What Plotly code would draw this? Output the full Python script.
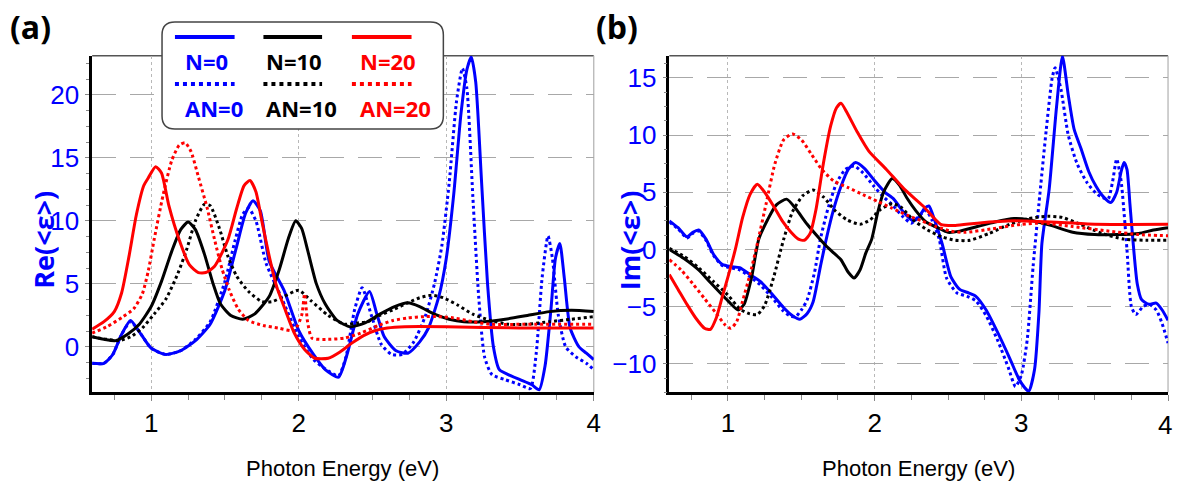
import plotly.graph_objects as go

# ---------------- Panel (a): Re(<eps>) ----------------
a_N0_x = [0.60, 0.68, 0.74, 0.80, 0.86, 0.92, 1.00, 1.10, 1.20, 1.30, 1.40, 1.50, 1.58, 1.64, 1.69, 1.74, 1.80,
          1.90, 2.00, 2.10, 2.18, 2.27, 2.33, 2.40, 2.48, 2.53, 2.58, 2.66, 2.74, 2.82, 2.88, 2.95, 3.00, 3.05,
          3.10, 3.14, 3.17, 3.20, 3.24, 3.28, 3.32, 3.36, 3.42, 3.50, 3.58, 3.63, 3.67, 3.71, 3.74, 3.77, 3.80,
          3.84, 3.90, 3.95, 4.00]
a_N0_y = [-1.3, -1.3, -0.6, 1.0, 2.1, 1.2, -0.1, -0.6, -0.3, 0.5, 1.8, 4.5, 8.0, 10.6, 11.6, 10.8, 6.8,
          4.5, 1.3, -0.6, -1.8, -2.4, -0.5, 2.6, 4.4, 2.6, 0.8, -0.3, -0.5, 0.4, 1.5, 4.0, 7.0, 12.0,
          18.5, 22.0, 23.0, 21.0, 13.0, 5.0, 0.0, -1.8, -2.2, -2.6, -3.0, -3.4, -1.5, 3.0, 7.0, 8.2, 5.5,
          1.5, 0.0, -0.5, -1.0]

a_AN0_x = [0.60, 0.68, 0.74, 0.80, 0.86, 0.92, 1.00, 1.10, 1.20, 1.30, 1.40, 1.50, 1.57, 1.62, 1.66, 1.71, 1.78,
           1.88, 2.00, 2.10, 2.20, 2.27, 2.32, 2.38, 2.43, 2.49, 2.56, 2.63, 2.70, 2.78, 2.86, 2.92, 2.97, 3.02,
           3.07, 3.11, 3.14, 3.18, 3.22, 3.26, 3.31, 3.40, 3.50, 3.57, 3.61, 3.65, 3.69, 3.72, 3.76, 3.81, 3.88,
           3.95, 4.00]
a_AN0_y = [-1.3, -1.3, -0.6, 1.0, 2.0, 1.2, -0.1, -0.6, -0.3, 0.6, 2.0, 5.2, 8.5, 10.5, 11.0, 10.0, 6.6,
           4.0, 0.8, -1.0, -1.9, -2.3, -0.8, 3.0, 4.7, 2.6, 0.2, -0.6, -0.6, 0.4, 2.5, 5.0, 8.0, 13.0,
           19.5, 22.1, 20.5, 12.0, 4.0, -0.8, -2.2, -2.6, -3.0, -3.3, -0.5, 5.5, 8.8, 7.0, 2.5, 0.0, -0.8,
           -1.3, -1.8]

a_N10_x = [0.60, 0.68, 0.76, 0.84, 0.92, 1.00, 1.07, 1.14, 1.20, 1.25, 1.30, 1.36, 1.42, 1.47, 1.54, 1.62, 1.70,
           1.80, 1.87, 1.93, 1.98, 2.02, 2.06, 2.12, 2.18, 2.26, 2.35, 2.45, 2.55, 2.65, 2.74, 2.82, 2.92, 3.02,
           3.12, 3.25, 3.40, 3.55, 3.70, 3.85, 4.00]
a_N10_y = [0.8, 0.6, 0.5, 1.0, 1.8, 3.2, 5.2, 7.6, 9.3, 9.9, 9.3, 7.4, 5.0, 3.4, 2.5, 2.2, 2.6,
           4.0, 6.2, 8.6, 10.0, 9.4, 7.7, 5.0, 3.4, 2.1, 1.6, 1.9, 2.6, 3.2, 3.5, 3.2, 2.6, 2.2,
           2.0, 2.0, 2.2, 2.5, 2.8, 2.9, 2.8]

a_AN10_x = [0.60, 0.70, 0.78, 0.86, 0.94, 1.02, 1.10, 1.18, 1.24, 1.30, 1.36, 1.40, 1.46, 1.52, 1.58, 1.66, 1.75,
            1.82, 1.90, 2.00, 2.08, 2.20, 2.31, 2.40, 2.47, 2.55, 2.65, 2.74, 2.82, 2.90, 2.98, 3.08, 3.18,
            3.30, 3.42, 3.55, 3.70, 3.85, 4.00]
a_AN10_y = [0.8, 0.6, 0.5, 0.8, 1.5, 2.6, 3.8, 5.8, 7.7, 10.0, 11.3, 11.2, 9.5, 7.2, 5.6, 4.4, 3.6,
            3.6, 4.0, 4.5, 3.7, 2.5, 1.8, 1.9, 2.0, 2.5, 3.0, 3.5, 3.9, 4.1, 3.9, 3.3, 2.6,
            2.1, 1.8, 1.8, 2.0, 2.2, 2.4]

a_N20_x = [0.60, 0.68, 0.75, 0.80, 0.85, 0.90, 0.95, 0.98, 1.03, 1.07, 1.12, 1.19, 1.26, 1.32, 1.37, 1.43, 1.52,
           1.58, 1.63, 1.67, 1.71, 1.75, 1.80, 1.85, 1.91, 1.97, 2.04, 2.11, 2.20, 2.28, 2.36, 2.44, 2.52, 2.60,
           2.72, 3.00, 3.50, 4.00]
a_N20_y = [1.4, 2.0, 2.8, 4.3, 7.2, 10.5, 12.8, 13.4, 14.3, 13.8, 11.2, 8.5, 6.5, 5.9, 5.9, 6.4, 8.5,
           11.0, 12.8, 13.2, 12.3, 10.0, 7.2, 4.8, 2.9, 1.1, -0.2, -0.9, -0.9, -0.4, 0.3, 0.9, 1.3, 1.5,
           1.6, 1.6, 1.5, 1.5]

a_AN20_x = [0.60, 0.70, 0.81, 0.88, 0.94, 0.98, 1.02, 1.08, 1.14, 1.19, 1.23, 1.27, 1.32, 1.38, 1.43, 1.48, 1.53,
            1.59, 1.66, 1.76, 1.86, 1.97, 2.02, 2.04, 2.06, 2.09, 2.20, 2.31, 2.42, 2.54, 2.64, 2.74, 2.85,
            2.95, 3.05, 3.18, 3.30, 3.60, 4.00]
a_AN20_y = [1.1, 1.6, 2.4, 3.0, 4.2, 6.0, 8.5, 12.0, 14.8, 16.0, 16.2, 15.5, 13.5, 11.0, 8.5, 6.2, 4.5,
            3.0, 2.1, 1.7, 1.5, 1.3, 2.5, 4.2, 2.0, 0.7, 0.6, 0.7, 1.1, 1.7, 2.1, 2.3, 2.4,
            2.4, 2.3, 2.0, 1.8, 1.8, 1.8]

# ---------------- Panel (b): Im(<eps>) ----------------
b_N0_x = [0.60, 0.66, 0.72, 0.76, 0.80, 0.85, 0.90, 0.96, 1.02, 1.08, 1.15, 1.22, 1.30, 1.38, 1.44, 1.49, 1.54,
          1.58, 1.63, 1.67, 1.72, 1.77, 1.82, 1.87, 1.93, 2.00, 2.07, 2.13, 2.20, 2.26, 2.30, 2.34, 2.37, 2.41,
          2.46, 2.52, 2.58, 2.64, 2.69, 2.76, 2.84, 2.92, 2.99, 3.05, 3.09, 3.12, 3.14, 3.19, 3.24, 3.28, 3.32,
          3.36, 3.41, 3.46, 3.51, 3.56, 3.61, 3.65, 3.68, 3.70, 3.72, 3.74, 3.76, 3.79, 3.82, 3.87, 3.92, 3.96,
          4.00]
b_N0_y = [2.5, 1.9, 1.1, 1.5, 1.7, 0.9, -0.4, -1.3, -1.5, -1.6, -2.2, -2.8, -3.9, -5.1, -5.8, -6.1, -5.6,
          -4.6, -1.5, 0.9, 3.5, 5.5, 7.0, 7.6, 7.1, 6.0, 5.0, 4.4, 3.2, 2.5, 2.8, 3.6, 3.8, 2.5,
          0.5, -2.4, -3.5, -3.8, -4.1, -5.3, -7.3, -9.5, -11.5, -12.4, -10.5, -5.5, 0.5, 5.3, 12.5, 16.9, 13.5,
          10.5, 8.7, 6.8, 5.5, 4.6, 4.1, 5.0, 6.8, 7.6, 7.0, 4.0, 0.9, -3.0, -4.4, -4.8, -4.7, -5.3,
          -6.2]

b_AN0_x = [0.60, 0.66, 0.72, 0.76, 0.80, 0.85, 0.90, 0.96, 1.02, 1.08, 1.15, 1.22, 1.30, 1.37, 1.42, 1.46, 1.50,
           1.54, 1.59, 1.63, 1.68, 1.74, 1.80, 1.86, 1.92, 1.99, 2.06, 2.12, 2.19, 2.25, 2.30, 2.35, 2.39, 2.44,
           2.49, 2.56, 2.63, 2.69, 2.76, 2.84, 2.91, 2.96, 3.00, 3.04, 3.08, 3.12, 3.17, 3.21, 3.23, 3.27, 3.32,
           3.38, 3.45, 3.52, 3.59, 3.62, 3.65, 3.68, 3.72, 3.75, 3.78, 3.83, 3.87, 3.92, 3.96, 4.00]
b_AN0_y = [2.4, 1.8, 1.0, 1.4, 1.6, 0.8, -0.5, -1.4, -1.6, -1.8, -2.4, -3.1, -4.2, -5.3, -5.8, -5.9, -5.3,
           -4.4, -2.0, 0.9, 3.5, 5.8, 7.0, 7.3, 6.7, 5.6, 4.6, 3.9, 2.9, 2.3, 2.9, 3.4, 2.6, 0.9,
           -2.5, -3.8, -4.1, -4.5, -5.8, -8.0, -10.3, -12.0, -11.0, -7.9, -1.5, 4.0, 10.5, 15.0, 15.9, 14.0, 10.0,
           7.5, 5.8, 4.8, 4.4, 5.8, 7.9, 6.0, 0.0, -5.0, -5.7, -5.0, -4.8, -5.3, -6.5, -8.2]

b_N10_x = [0.60, 0.70, 0.80, 0.88, 1.00, 1.07, 1.11, 1.16, 1.21, 1.27, 1.33, 1.40, 1.46, 1.54, 1.62, 1.67, 1.72,
           1.77, 1.82, 1.86, 1.90, 1.94, 1.98, 2.02, 2.06, 2.12, 2.17, 2.22, 2.28, 2.35, 2.43, 2.50, 2.58, 2.70,
           2.82, 2.95, 3.05, 3.20, 3.35, 3.50, 3.65, 3.80, 3.90, 4.00]
b_N10_y = [0.0, -0.8, -1.8, -2.9, -4.5, -5.3, -4.8, -2.5, 0.9, 2.6, 3.9, 4.4, 3.6, 2.2, 1.0, 0.3, -0.3,
           -0.9, -2.0, -2.5, -1.8, -0.3, 0.9, 3.2, 5.0, 6.2, 5.6, 4.5, 3.4, 2.4, 1.9, 1.5, 1.6, 2.0,
           2.4, 2.7, 2.6, 2.1, 1.5, 1.3, 1.3, 1.4, 1.7, 1.9]

b_AN10_x = [0.60, 0.70, 0.80, 0.90, 1.00, 1.08, 1.14, 1.20, 1.25, 1.31, 1.38, 1.44, 1.51, 1.58, 1.65, 1.73, 1.81,
            1.90, 1.97, 2.04, 2.12, 2.18, 2.26, 2.36, 2.46, 2.55, 2.65, 2.78, 2.92, 3.05, 3.18, 3.28, 3.40,
            3.55, 3.70, 3.85, 4.00]
b_AN10_y = [0.1, -0.6, -1.6, -2.8, -4.0, -5.2, -5.6, -5.7, -4.9, -2.5, 0.9, 3.3, 4.7, 5.2, 4.6, 3.4, 2.6,
            2.2, 2.6, 3.5, 4.0, 3.7, 2.6, 1.7, 1.1, 0.8, 0.8, 1.4, 2.2, 2.7, 2.9, 2.8, 2.2,
            1.4, 0.9, 0.8, 0.8]

b_N20_x = [0.60, 0.66, 0.72, 0.78, 0.84, 0.88, 0.92, 0.96, 1.00, 1.05, 1.10, 1.15, 1.20, 1.25, 1.31, 1.37, 1.43,
           1.48, 1.52, 1.56, 1.60, 1.65, 1.70, 1.74, 1.77, 1.81, 1.88, 1.96, 2.08, 2.20, 2.33, 2.45, 2.55, 2.70,
           2.95, 3.20, 3.50, 4.00]
b_N20_y = [-2.2, -3.5, -4.8, -6.0, -6.9, -7.0, -6.0, -4.2, -2.4, 0.0, 2.8, 4.8, 5.7, 5.0, 3.8, 2.5, 1.5,
           0.9, 0.8, 1.4, 3.5, 7.5, 10.8, 12.4, 12.8, 12.0, 10.3, 8.6, 7.0, 5.3, 3.8, 2.2, 2.1, 2.3,
           2.5, 2.4, 2.2, 2.2]

b_AN20_x = [0.60, 0.68, 0.76, 0.84, 0.92, 0.98, 1.02, 1.06, 1.10, 1.15, 1.20, 1.26, 1.32, 1.38, 1.44, 1.50, 1.57,
            1.64, 1.72, 1.82, 1.92, 2.02, 2.12, 2.22, 2.32, 2.42, 2.52, 2.62, 2.80, 3.00, 3.15, 3.35, 3.60,
            3.80, 4.00]
b_AN20_y = [-0.9, -1.8, -3.0, -4.3, -5.6, -6.6, -6.9, -6.3, -4.5, -2.2, 0.5, 4.0, 7.5, 9.6, 10.1, 9.6, 8.3,
            7.0, 6.0, 5.4, 4.8, 4.2, 3.6, 3.0, 2.5, 2.0, 1.6, 1.5, 1.8, 2.2, 2.3, 2.0, 1.6,
            1.3, 1.2]

# ---------------- Labels ----------------
x_ticks = [1, 2, 3, 4]
a_y_ticks = [0, 5, 10, 15, 20]
b_y_ticks = [-10, -5, 0, 5, 10, 15]
legend_names = ["N=0", "N=10", "N=20", "AN=0", "AN=10", "AN=20"]
x_title = "Photon Energy (eV)"
a_y_title = "Re(<ε>)"
b_y_title = "Im(<ε>)"
panel_labels = ["(a)", "(b)"]

BLUE = "#0000ff"
BLACK = "#000000"
RED = "#ff0000"
W, H = 1181, 493

fig = go.Figure()


def add(x, y, color, dash, xa, ya, width=3):
    fig.add_trace(go.Scatter(
        x=x, y=y, mode="lines", xaxis=xa, yaxis=ya, showlegend=False, hoverinfo="skip",
        line=dict(color=color, width=width, dash=dash, shape="spline", smoothing=0.6)))


for xa, ya, d in [("x", "y", [(a_AN0_x, a_AN0_y, BLUE, "dot"), (a_N0_x, a_N0_y, BLUE, "solid"),
                                  (a_AN10_x, a_AN10_y, BLACK, "dot"), (a_N10_x, a_N10_y, BLACK, "solid"),
                                  (a_AN20_x, a_AN20_y, RED, "dot"), (a_N20_x, a_N20_y, RED, "solid")]),
                  ("x2", "y2", [(b_AN0_x, b_AN0_y, BLUE, "dot"), (b_N0_x, b_N0_y, BLUE, "solid"),
                                (b_AN10_x, b_AN10_y, BLACK, "dot"), (b_N10_x, b_N10_y, BLACK, "solid"),
                                (b_AN20_x, b_AN20_y, RED, "dot"), (b_N20_x, b_N20_y, RED, "solid")])]:
    for x, y, c, dash in d:
        add(x, y, c, dash, xa, ya)

TICKFONT = "Liberation Sans, Arial, sans-serif"
ydom = [1 - 392.3 / H, 1 - 55.7 / H]

xcommon = dict(range=[0.6, 4], tickvals=x_ticks,
               showgrid=True, gridcolor="#b8b8b8", griddash="dot", gridwidth=1,
               showline=True, linecolor="black", linewidth=2.5, mirror=False, zeroline=False,
               ticks="outside", ticklen=6, tickcolor="#888888", tickwidth=1,
               minor=dict(dtick=0.25, tick0=0, ticks="outside", ticklen=5, tickcolor="#888888", showgrid=False),
               tickfont=dict(family=TICKFONT, size=26, color="black"), ticklabelstandoff=0)
ycommon = dict(showgrid=True, gridcolor="#a8a8a8", griddash="24px,14px", gridwidth=1,
               showline=True, linecolor="black", linewidth=2.5, zeroline=False,
               ticks="outside", ticklen=4, tickcolor="#888888", tickwidth=1,
               minor=dict(dtick=1.25, tick0=0, ticks="outside", ticklen=3, tickcolor="#888888", showgrid=False),
               tickfont=dict(family=TICKFONT, size=26, color=BLUE), ticklabelstandoff=1)

# the last label of panel (b) sits at the page edge; it is written as an annotation instead
b_x_ticktext = [str(v) for v in x_ticks[:-1]] + [""]

fig.update_layout(
    width=W, height=H, margin=dict(l=0, r=0, t=0, b=0),
    paper_bgcolor="white", plot_bgcolor="white", showlegend=False,
    xaxis=dict(domain=[92.7 / W, 597.3 / W], anchor="y", ticktext=[str(v) for v in x_ticks], **xcommon),
    yaxis=dict(domain=ydom, anchor="x", range=[-3.6, 23.1], tickvals=a_y_ticks, **ycommon),
    xaxis2=dict(domain=[673.3 / W, 1175 / W], anchor="y2", ticktext=b_x_ticktext, **xcommon),
    yaxis2=dict(domain=ydom, anchor="x2", range=[-12.5, 16.95], tickvals=b_y_ticks, **ycommon),
)

shapes = []
# top (dark grey) and right (light grey) frame lines
for xr, yr in [("x domain", "y domain"), ("x2 domain", "y2 domain")]:
    shapes.append(dict(type="line", xref=xr, yref=yr, x0=0, x1=1, y0=1, y1=1, line=dict(color="#555555", width=1.5), layer="below"))
    shapes.append(dict(type="line", xref=xr, yref=yr, x0=1, x1=1, y0=0, y1=1, line=dict(color="#b0b0b0", width=1.2), layer="below"))


def px(x):
    return x / W


def py(y):
    return 1 - y / H


# rounded legend box
x0, x1, y0, y1, r = 163, 446, 22, 129, 13
rx, ry = r / W, r / H
path = (f"M {px(x0)+rx},{py(y0)} L {px(x1)-rx},{py(y0)} Q {px(x1)},{py(y0)} {px(x1)},{py(y0)-ry} "
        f"L {px(x1)},{py(y1)+ry} Q {px(x1)},{py(y1)} {px(x1)-rx},{py(y1)} "
        f"L {px(x0)+rx},{py(y1)} Q {px(x0)},{py(y1)} {px(x0)},{py(y1)+ry} "
        f"L {px(x0)},{py(y0)-ry} Q {px(x0)},{py(y0)} {px(x0)+rx},{py(y0)} Z")
shapes.append(dict(type="path", xref="paper", yref="paper", path=path, fillcolor="white",
                   line=dict(color="#444444", width=1.5), layer="above"))

legend_colors = [BLUE, BLACK, RED]
seg_x = [(176, 236), (265, 324), (354, 414)]
for (sx0, sx1), c in zip(seg_x, legend_colors):
    shapes.append(dict(type="line", xref="paper", yref="paper", x0=px(sx0), x1=px(sx1), y0=py(37), y1=py(37),
                       line=dict(color=c, width=4), layer="above"))
    shapes.append(dict(type="line", xref="paper", yref="paper", x0=px(sx0), x1=px(sx1), y0=py(84), y1=py(84),
                       line=dict(color=c, width=4, dash="dot"), layer="above"))
fig.update_layout(shapes=shapes)

ann = []
LEGFONT = "Open Sans, Liberation Sans, sans-serif"
pos_n = [208, 296, 390]
pos_an = [215, 303, 398]
for i, c in enumerate(legend_colors):
    ann.append(dict(x=px(pos_n[i]), y=py(61), text=f"<b>{legend_names[i]}</b>", font=dict(family=LEGFONT, size=22, color=c)))
    ann.append(dict(x=px(pos_an[i]), y=py(108), text=f"<b>{legend_names[i+3]}</b>", font=dict(family=LEGFONT, size=22, color=c)))

ann.append(dict(x=px(345), y=py(468), text=x_title, font=dict(family=TICKFONT, size=22, color="black")))
ann.append(dict(x=px(924), y=py(468), text=x_title, font=dict(family=TICKFONT, size=22, color="black")))
ann.append(dict(x=px(43), y=py(240), text=f"<b>{a_y_title}</b>", textangle=-90, font=dict(family=LEGFONT, size=27, color=BLUE)))
ann.append(dict(x=px(633), y=py(240), text=f"<b>{b_y_title}</b>", textangle=-90, font=dict(family=LEGFONT, size=27, color=BLUE)))
ann.append(dict(x=px(31), y=py(27), text=f"<b>{panel_labels[0]}</b>", font=dict(family=LEGFONT, size=32, color="black")))
ann.append(dict(x=px(621), y=py(27), text=f"<b>{panel_labels[1]}</b>", font=dict(family=LEGFONT, size=32, color="black")))
for a in ann:
    a.update(xref="paper", yref="paper", showarrow=False, xanchor="center", yanchor="middle")
ann.append(dict(xref="paper", yref="paper", x=px(1172), y=py(425), xanchor="center", yanchor="middle",
                showarrow=False, text=str(x_ticks[-1]), font=dict(family=TICKFONT, size=26, color="black")))
fig.update_layout(annotations=ann)

# remove the browser's default page margin so the figure starts at the window's top-left corner
fig.write_html("out.html", config={"displayModeBar": False},
               post_script="document.body.style.margin='0';document.body.style.padding='0';"
                           "document.documentElement.style.overflow='hidden';")
